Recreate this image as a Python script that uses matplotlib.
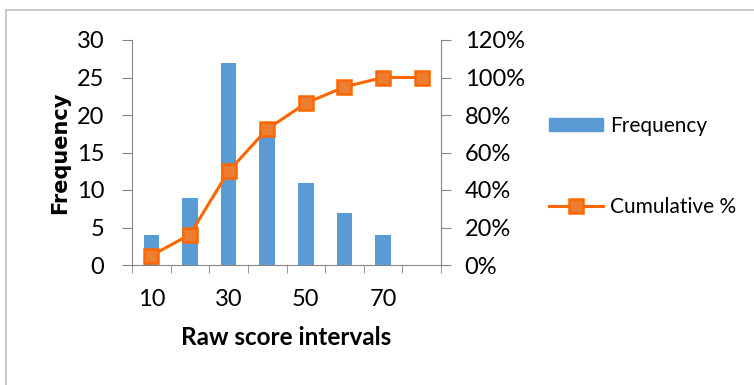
import matplotlib
matplotlib.use("Agg")
import matplotlib.pyplot as plt
from matplotlib.patches import Rectangle
from matplotlib.lines import Line2D
from matplotlib.ticker import FixedLocator, PercentFormatter

plt.rcParams['font.family'] = ['Lato', 'DejaVu Sans']

categories = [10, 20, 30, 40, 50, 60, 70, 80]
frequency = [4, 9, 27, 18, 11, 7, 4, 0]
cumulative_pct = [5.0, 16.25, 50.0, 72.5, 86.25, 95.0, 100.0, 100.0]
shown_tick_labels = ["10", "", "30", "", "50", "", "70", ""]

bar_color = "#5B9BD5"
line_color = "#FF6600"
marker_fill = "#ED7D31"
axis_gray = "#868686"

fig = plt.figure(figsize=(7.54, 3.85), dpi=100)
# outer chart border
fig.add_artist(Rectangle((6/754, -0.01), 1.0, 1 - 10/385 + 0.01, transform=fig.transFigure,
                         fill=False, edgecolor="#BFBFBF", linewidth=1.2))

ax = fig.add_axes([132/754, 1 - 265/385, (441 - 132)/754, (265 - 40)/385])
x = list(range(len(categories)))
ax.bar(x, frequency, width=0.4, color=bar_color, zorder=2)
ax.set_xlim(-0.5, len(categories) - 0.5)
ax.set_ylim(0, 30)
ax.set_yticks(range(0, 31, 5))
ax.set_xticks(x)
ax.set_xticklabels(shown_tick_labels)
ax.xaxis.set_minor_locator(FixedLocator([i - 0.5 for i in range(len(categories) + 1)]))
ax.tick_params(axis='x', which='major', length=0, pad=17, labelsize=17)
ax.tick_params(axis='x', which='minor', length=6, color=axis_gray, direction='out')
ax.tick_params(axis='y', length=7, color=axis_gray, labelsize=17, pad=13)
for s in ['top', 'right']:
    ax.spines[s].set_visible(False)
for s in ['left', 'bottom']:
    ax.spines[s].set_color(axis_gray)
ax.set_ylabel("Frequency", fontsize=15, fontweight='bold', family='DejaVu Sans', labelpad=5)
ax.set_xlabel("Raw score intervals", fontsize=17.5, fontweight='bold', labelpad=12)

ax2 = ax.twinx()
ax2.plot(x, cumulative_pct, color=line_color, linewidth=2.2, marker='s', markersize=10,
         markerfacecolor=marker_fill, markeredgecolor=line_color, markeredgewidth=1.8, zorder=3)
ax2.set_ylim(0, 120)
ax2.set_yticks(range(0, 121, 20))
ax2.yaxis.set_major_formatter(PercentFormatter(decimals=0))
ax2.tick_params(axis='y', length=7, color=axis_gray, labelsize=17, pad=10)
for s in ['top', 'left', 'bottom']:
    ax2.spines[s].set_visible(False)
ax2.spines['right'].set_color(axis_gray)

handles = [Rectangle((0, 0), 1, 1, color=bar_color),
           Line2D([0], [0], color=line_color, linewidth=2.2, marker='s', markersize=10,
                  markerfacecolor=marker_fill, markeredgecolor=line_color, markeredgewidth=1.8)]
fig.legend(handles, ["Frequency", "Cumulative %"], loc='upper left',
           bbox_to_anchor=(530/754, 1 - 97/385), frameon=False, fontsize=15,
           labelspacing=2.95, handlelength=2.6, handleheight=0.6, handletextpad=0.35)

fig.savefig("out.png", dpi=100)
